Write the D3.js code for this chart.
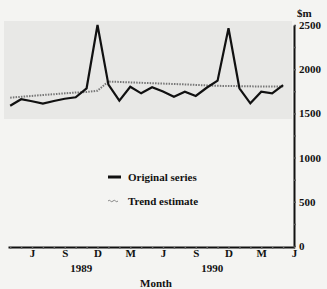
<!DOCTYPE html>
<html>
<head>
<meta charset="utf-8">
<script src="https://cdn.jsdelivr.net/npm/d3@7"></script>
<style>
  body { margin: 0; background: #f4f4f2; }
  svg { display: block; font-family: "Liberation Serif", "DejaVu Serif", serif; }
</style>
</head>
<body>
<div id="chart"></div>
<script>
// months Apr 1989 .. May 1991
const months = ['1989-04','1989-05','1989-06','1989-07','1989-08','1989-09','1989-10','1989-11','1989-12',
  '1990-01','1990-02','1990-03','1990-04','1990-05','1990-06','1990-07','1990-08','1990-09','1990-10','1990-11','1990-12',
  '1991-01','1991-02','1991-03','1991-04','1991-05'];
const original = [1587, 1660, 1637, 1610, 1640, 1666, 1682, 1784, 2500,
  1825, 1644, 1802, 1727, 1795, 1748, 1689, 1745, 1697, 1790, 1870, 2463,
  1784, 1614, 1745, 1727, 1821];
const trend = [1678, 1688, 1698, 1708, 1717, 1727, 1736, 1742, 1757,
  1860, 1856, 1851, 1846, 1842, 1837, 1833, 1828, 1822, 1817, 1812, 1810,
  1808, 1806, 1805, 1804, 1804];
// month index -> label (Jun 1991 = index 26, end of axis)
const tickLabels = {2: 'J', 5: 'S', 8: 'D', 11: 'M', 14: 'J', 17: 'S', 20: 'D', 23: 'M', 26: 'J'};
const yearLabels = [{idx: 6.5, text: '1989'}, {idx: 18.5, text: '1990'}];
const yTicks = d3.range(0, 2501, 250);

const W = 327, H = 289;
const svg = d3.select('#chart').append('svg').attr('width', W).attr('height', H);

//** faded band behind the plotted lines (photocopy tone)
svg.append('rect').attr('x', 4).attr('y', 21).attr('width', 288).attr('height', 98)
  .attr('fill', '#e8e8e6');

const x = d3.scaleLinear().domain([-0.2, 26]).range([8, 294]);
const y = d3.scaleLinear().domain([0, 2500]).range([246, 25]);

//** y axis on the right
const yAxis = d3.axisRight(y)
  .tickValues(yTicks)
  .tickSize(2)
  .tickSizeOuter(0)
  .tickPadding(3)
  .tickFormat(d => d % 500 === 0 ? d : '');
const gy = svg.append('g').attr('transform', 'translate(294,0)').call(yAxis);
gy.select('.domain').attr('stroke', '#111').attr('stroke-width', 2);
gy.selectAll('.tick line').attr('stroke', '#555').attr('stroke-width', 1.5);
gy.selectAll('text').attr('fill', '#111').attr('font-size', 11)
  .attr('font-family', '"Liberation Serif", serif').attr('font-weight', 'bold');

svg.append('text').attr('x', 297).attr('y', 17).text('$m')
  .attr('font-size', 11).attr('font-weight', 'bold').attr('fill', '#111');

//** x axis
const xAxis = d3.axisBottom(x)
  .tickValues(d3.range(0, 27))
  .tickSize(2)
  .tickSizeOuter(0)
  .tickPadding(0)
  .tickFormat(d => tickLabels[d] || '');
const gx = svg.append('g').attr('transform', 'translate(0,247)').call(xAxis);
gx.select('.domain').attr('stroke', '#111').attr('stroke-width', 2);
gx.selectAll('.tick line').attr('stroke', '#666').attr('stroke-width', 1.5);
gx.selectAll('text').attr('fill', '#111').attr('font-size', 11)
  .attr('font-family', '"Liberation Serif", serif').attr('font-weight', 'bold');

svg.selectAll('.year').data(yearLabels).enter().append('text')
  .attr('class', 'year')
  .attr('x', d => x(d.idx)).attr('y', 272)
  .attr('text-anchor', 'middle')
  .attr('font-size', 11).attr('font-weight', 'bold').attr('fill', '#111')
  .text(d => d.text);

svg.append('text').attr('x', 156).attr('y', 287).attr('text-anchor', 'middle')
  .attr('font-size', 11).attr('font-weight', 'bold').attr('fill', '#111').text('Month');

//** series
const line = d3.line().x((d, i) => x(i)).y(d => y(d));
svg.append('path').datum(trend).attr('d', line)
  .attr('fill', 'none').attr('stroke', '#777').attr('stroke-width', 2)
  .attr('stroke-dasharray', '1.5,1.2');
svg.append('path').datum(original).attr('d', line)
  .attr('fill', 'none').attr('stroke', '#111').attr('stroke-width', 2.2)
  .attr('stroke-linejoin', 'miter');

//** legenda
const legend = svg.append('g');
legend.append('line').attr('x1', 108).attr('x2', 121).attr('y1', 177).attr('y2', 177)
  .attr('stroke', '#111').attr('stroke-width', 3);
legend.append('path').attr('d', 'M108,201 q1.25,-1.5 2.5,0 t2.5,0 t2.5,0 t2.5,0')
  .attr('fill', 'none').attr('stroke', '#888').attr('stroke-width', 1);
legend.append('text').attr('x', 128).attr('y', 181).text('Original series')
  .attr('font-size', 11).attr('font-weight', 'bold').attr('fill', '#111');
legend.append('text').attr('x', 128).attr('y', 205).text('Trend estimate')
  .attr('font-size', 11).attr('font-weight', 'bold').attr('fill', '#111');
</script>
</body>
</html>
